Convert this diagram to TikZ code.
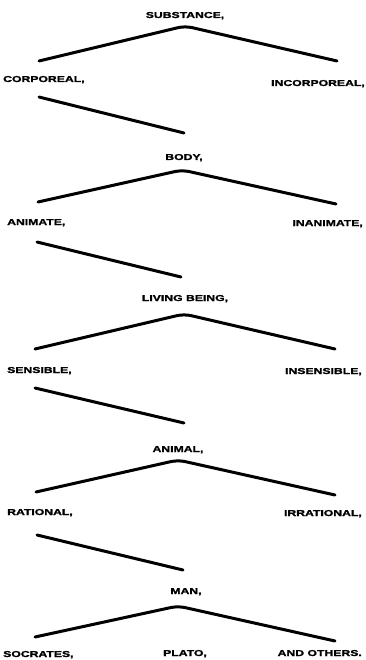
\documentclass[tikz,border=0pt]{standalone}
\usepackage{fontspec}
\newfontfamily\lblfont{Liberation Sans}[FakeStretch=1.42,FakeBold=1.6]
\begin{document}
\begin{tikzpicture}[x=1pt,y=-1pt,
  lbl/.style={inner sep=0pt,font=\lblfont\bfseries\fontsize{8.6}{9}\selectfont},
  branch/.style={line width=3pt,line cap=round,line join=round,rounded corners=7pt}]
\useasboundingbox (0,0) rectangle (365,660);
% labels
\node[lbl,anchor=base] (substance) at (185,18) {SUBSTANCE,};
\node[lbl,anchor=base west] (corporeal) at (3,82) {CORPOREAL,};
\node[lbl,anchor=base east] (incorporeal) at (365,86) {INCORPOREAL,};
\node[lbl,anchor=base] (body) at (184,160) {BODY,};
\node[lbl,anchor=base west] (animate) at (7,225) {ANIMATE,};
\node[lbl,anchor=base east] (inanimate) at (363,226) {INANIMATE,};
\node[lbl,anchor=base] (living) at (185,301) {LIVING BEING,};
\node[lbl,anchor=base west] (sensible) at (7,373) {SENSIBLE,};
\node[lbl,anchor=base east] (insensible) at (362,374) {INSENSIBLE,};
\node[lbl,anchor=base] (animal) at (178,452) {ANIMAL,};
\node[lbl,anchor=base west] (rational) at (7,515) {RATIONAL,};
\node[lbl,anchor=base east] (irrational) at (362,516) {IRRATIONAL,};
\node[lbl,anchor=base] (man) at (186,594) {MAN,};
\node[lbl,anchor=base west] (socrates) at (3,657) {SOCRATES,};
\node[lbl,anchor=base] (plato) at (185,656) {PLATO,};
\node[lbl,anchor=base east] (others) at (362,656) {AND OTHERS.};
% connector end points
\coordinate (p1) at (185,26);  \coordinate (l1) at (39,61);  \coordinate (r1) at (337,61);
\coordinate (d1a) at (39,97);  \coordinate (d1b) at (184,133);
\coordinate (p2) at (182,170); \coordinate (l2) at (38,202); \coordinate (r2) at (336,204);
\coordinate (d2a) at (37,242); \coordinate (d2b) at (181,277);
\coordinate (p3) at (184,314); \coordinate (l3) at (35,349); \coordinate (r3) at (335,349);
\coordinate (d3a) at (35,388); \coordinate (d3b) at (184,423);
\coordinate (p4) at (178,460); \coordinate (l4) at (36,492); \coordinate (r4) at (335,495);
\coordinate (d4a) at (37,535); \coordinate (d4b) at (183,570);
\coordinate (p5) at (178,606); \coordinate (l5) at (35,637); \coordinate (r5) at (335,641);
% branches
\draw[branch] (l1) -- (p1) -- (r1);
\draw[branch] (d1a) -- (d1b);
\draw[branch] (l2) -- (p2) -- (r2);
\draw[branch] (d2a) -- (d2b);
\draw[branch] (l3) -- (p3) -- (r3);
\draw[branch] (d3a) -- (d3b);
\draw[branch] (l4) -- (p4) -- (r4);
\draw[branch] (d4a) -- (d4b);
\draw[branch] (l5) -- (p5) -- (r5);
\end{tikzpicture}
\end{document}
